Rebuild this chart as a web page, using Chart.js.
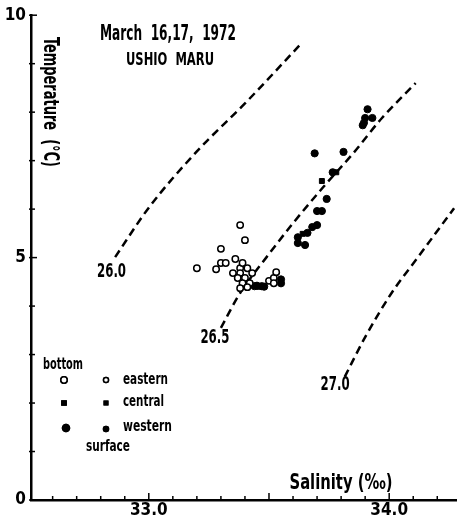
<!DOCTYPE html>
<html>
<head>
<meta charset="utf-8">
<script src="https://cdn.jsdelivr.net/npm/chart.js@4/dist/chart.umd.min.js"></script>
<style>
html, body { margin: 0; padding: 0; background: #fff; }
</style>
</head>
<body>
<canvas id="ts" width="462" height="518"></canvas>
<script>
// [salinity, temperature]
const eastern = [
  [33.20, 4.78], [33.28, 4.76], [33.30, 4.89], [33.32, 4.89], [33.30, 5.18],
  [33.36, 4.97], [33.38, 5.67], [33.40, 5.36], [33.35, 4.68], [33.38, 4.78],
  [33.39, 4.89], [33.41, 4.78], [33.38, 4.68], [33.43, 4.68], [33.37, 4.58],
  [33.40, 4.58], [33.39, 4.47], [33.42, 4.47], [33.38, 4.37], [33.41, 4.39],
  [33.50, 4.52], [33.52, 4.58], [33.53, 4.70], [33.52, 4.47]
];
const central = [
  [33.46, 4.40], [33.78, 6.76], [33.72, 6.58], [33.64, 5.49]
];
const western = [
  [33.44, 4.41], [33.45, 4.42], [33.47, 4.41], [33.48, 4.40], [33.55, 4.55],
  [33.55, 4.47], [33.91, 8.06], [33.90, 7.88], [33.93, 7.88], [33.89, 7.73],
  [33.895, 7.78], [33.69, 7.15], [33.81, 7.18], [33.765, 6.76], [33.74, 6.21],
  [33.70, 5.96], [33.72, 5.96], [33.70, 5.67], [33.68, 5.63], [33.66, 5.51],
  [33.62, 5.42], [33.62, 5.30], [33.65, 5.26]
];

// sigma-t isopycnals
const sigma260 = [[32.86, 5.01], [33.00, 6.03], [33.20, 7.19], [33.40, 8.18], [33.635, 9.42]];
const sigma265 = [[33.30, 3.55], [33.38, 4.27], [33.49, 5.01], [33.60, 5.71], [33.725, 6.45], [33.85, 7.15], [33.97, 7.88], [34.11, 8.60]];
const sigma270 = [[33.815, 2.54], [33.90, 3.36], [34.01, 4.27], [34.12, 5.01], [34.27, 6.02]];
const sigmaLabels = [['26.0', 32.845, 4.70], ['26.5', 33.275, 3.34], ['27.0', 33.775, 2.37]];

const xLabels = { 33: '33.0', 34: '34.0' };
const yLabels = [0, 5, 10];

const FAMILY = '"DejaVu Sans Condensed", "Liberation Sans Narrow", "DejaVu Sans", sans-serif';
const pts = a => a.map(p => ({ x: p[0], y: p[1] }));

function fitText(ctx, str, x, y, size, width, align, rot) {
  ctx.font = 'bold ' + size + 'px ' + FAMILY;
  const w = ctx.measureText(str).width;
  ctx.save();
  ctx.translate(x, y);
  if (rot) ctx.rotate(rot);
  ctx.scale(width / w, 1);
  ctx.textAlign = align || 'center';
  ctx.textBaseline = 'middle';
  ctx.fillText(str, 0, 0);
  ctx.restore();
}

const decor = {
  id: 'decor',
  afterDraw(chart) {
    const { ctx, chartArea: a, scales: { x, y } } = chart;
    ctx.save();
    ctx.strokeStyle = '#000';
    ctx.fillStyle = '#000';
    ctx.lineWidth = 1.5;
    // inward tick marks
    x.ticks.forEach(t => {
      const px = x.getPixelForValue(t.value);
      const major = Math.abs(t.value * 2 - Math.round(t.value * 2)) < 1e-6;
      ctx.beginPath();
      ctx.moveTo(px, a.bottom);
      ctx.lineTo(px, a.bottom - (major ? 7 : 4));
      ctx.stroke();
    });
    y.ticks.forEach(t => {
      const py = y.getPixelForValue(t.value);
      const major = t.value % 5 === 0;
      ctx.beginPath();
      ctx.moveTo(a.left - 2, py);
      ctx.lineTo(a.left + (major ? 6 : 4), py);
      ctx.stroke();
    });

    // isopycnal labels
    sigmaLabels.forEach(l => {
      fitText(ctx, l[0], x.getPixelForValue(l[1]), y.getPixelForValue(l[2]), 19, 29);
    });

    // titles
    fitText(ctx, 'March  16,17,  1972', 168, 34, 22, 136);
    fitText(ctx, 'USHIO  MARU', 170, 61, 17, 88);
    fitText(ctx, 'Temperature  (\u00B0C)', 49, 102, 21, 130, 'center', Math.PI / 2);
    fitText(ctx, 'Salinity (\u2030)', 341, 483, 22, 103);

    // legend
    fitText(ctx, 'bottom', 63, 365, 15, 40);
    fitText(ctx, 'surface', 108, 447, 16, 44);
    fitText(ctx, 'eastern', 123, 380, 16, 45, 'left');
    fitText(ctx, 'central', 123, 402, 16, 41, 'left');
    fitText(ctx, 'western', 123, 427, 16, 49, 'left');
    const sym = (style, r, px, py, open) => {
      ctx.fillStyle = open ? '#fff' : '#000';
      Chart.helpers.drawPoint(ctx, { pointStyle: style, radius: r, borderWidth: 1.5, rotation: 0 }, px, py);
      ctx.fill();
      ctx.stroke();
    };
    sym('circle', 3.2, 64, 380, true);
    sym('circle', 2.5, 106, 380, true);
    sym('rect', 3, 64, 403, false);
    sym('rect', 2.5, 106, 403, false);
    sym('circle', 3.5, 66, 428, false);
    sym('circle', 2.5, 106, 429, false);
    ctx.restore();
  }
};

const curve = d => ({
  data: pts(d),
  showLine: true,
  borderColor: '#000',
  borderWidth: 2.5,
  borderDash: [8, 5],
  pointRadius: 0,
  cubicInterpolationMode: 'monotone',
  clip: false
});

new Chart(document.getElementById('ts'), {
  type: 'scatter',
  data: {
    datasets: [
      { label: 'eastern', data: pts(eastern), pointStyle: 'circle', pointRadius: 3.2, borderWidth: 1.5,
        borderColor: '#000', backgroundColor: '#fff' },
      { label: 'central', data: pts(central), pointStyle: 'rect', pointRadius: 3.5, borderWidth: 1,
        borderColor: '#000', backgroundColor: '#000' },
      { label: 'western', data: pts(western), pointStyle: 'circle', pointRadius: 3.6, borderWidth: 1,
        borderColor: '#000', backgroundColor: '#000' },
      curve(sigma260),
      curve(sigma265),
      curve(sigma270)
    ]
  },
  options: {
    responsive: false,
    animation: false,
    events: [],
    layout: { padding: { top: 15, left: 0, right: 0, bottom: 0 } },
    plugins: { legend: { display: false }, tooltip: { enabled: false } },
    scales: {
      x: {
        type: 'linear',
        min: 32.51,
        max: 34.28,
        afterFit: s => { s.height = 18; },
        grid: { display: false, drawTicks: false },
        border: { display: true, color: '#000', width: 2.5 },
        ticks: {
          stepSize: 0.1,
          includeBounds: false,
          autoSkip: false,
          maxRotation: 0,
          padding: 0,
          color: '#000',
          font: { family: FAMILY, size: 17, weight: 'bold' },
          callback: v => xLabels[Math.round(v * 10) / 10] || ''
        }
      },
      y: {
        type: 'linear',
        min: 0,
        max: 10,
        afterFit: s => { s.width = 31; },
        grid: { display: false, drawTicks: false },
        border: { display: true, color: '#000', width: 2.5 },
        ticks: {
          stepSize: 1,
          autoSkip: false,
          padding: 5,
          color: '#000',
          font: { family: FAMILY, size: 17, weight: 'bold' },
          callback: v => yLabels.includes(v) ? String(v) : ''
        }
      }
    }
  },
  plugins: [decor]
});
</script>
</body>
</html>
